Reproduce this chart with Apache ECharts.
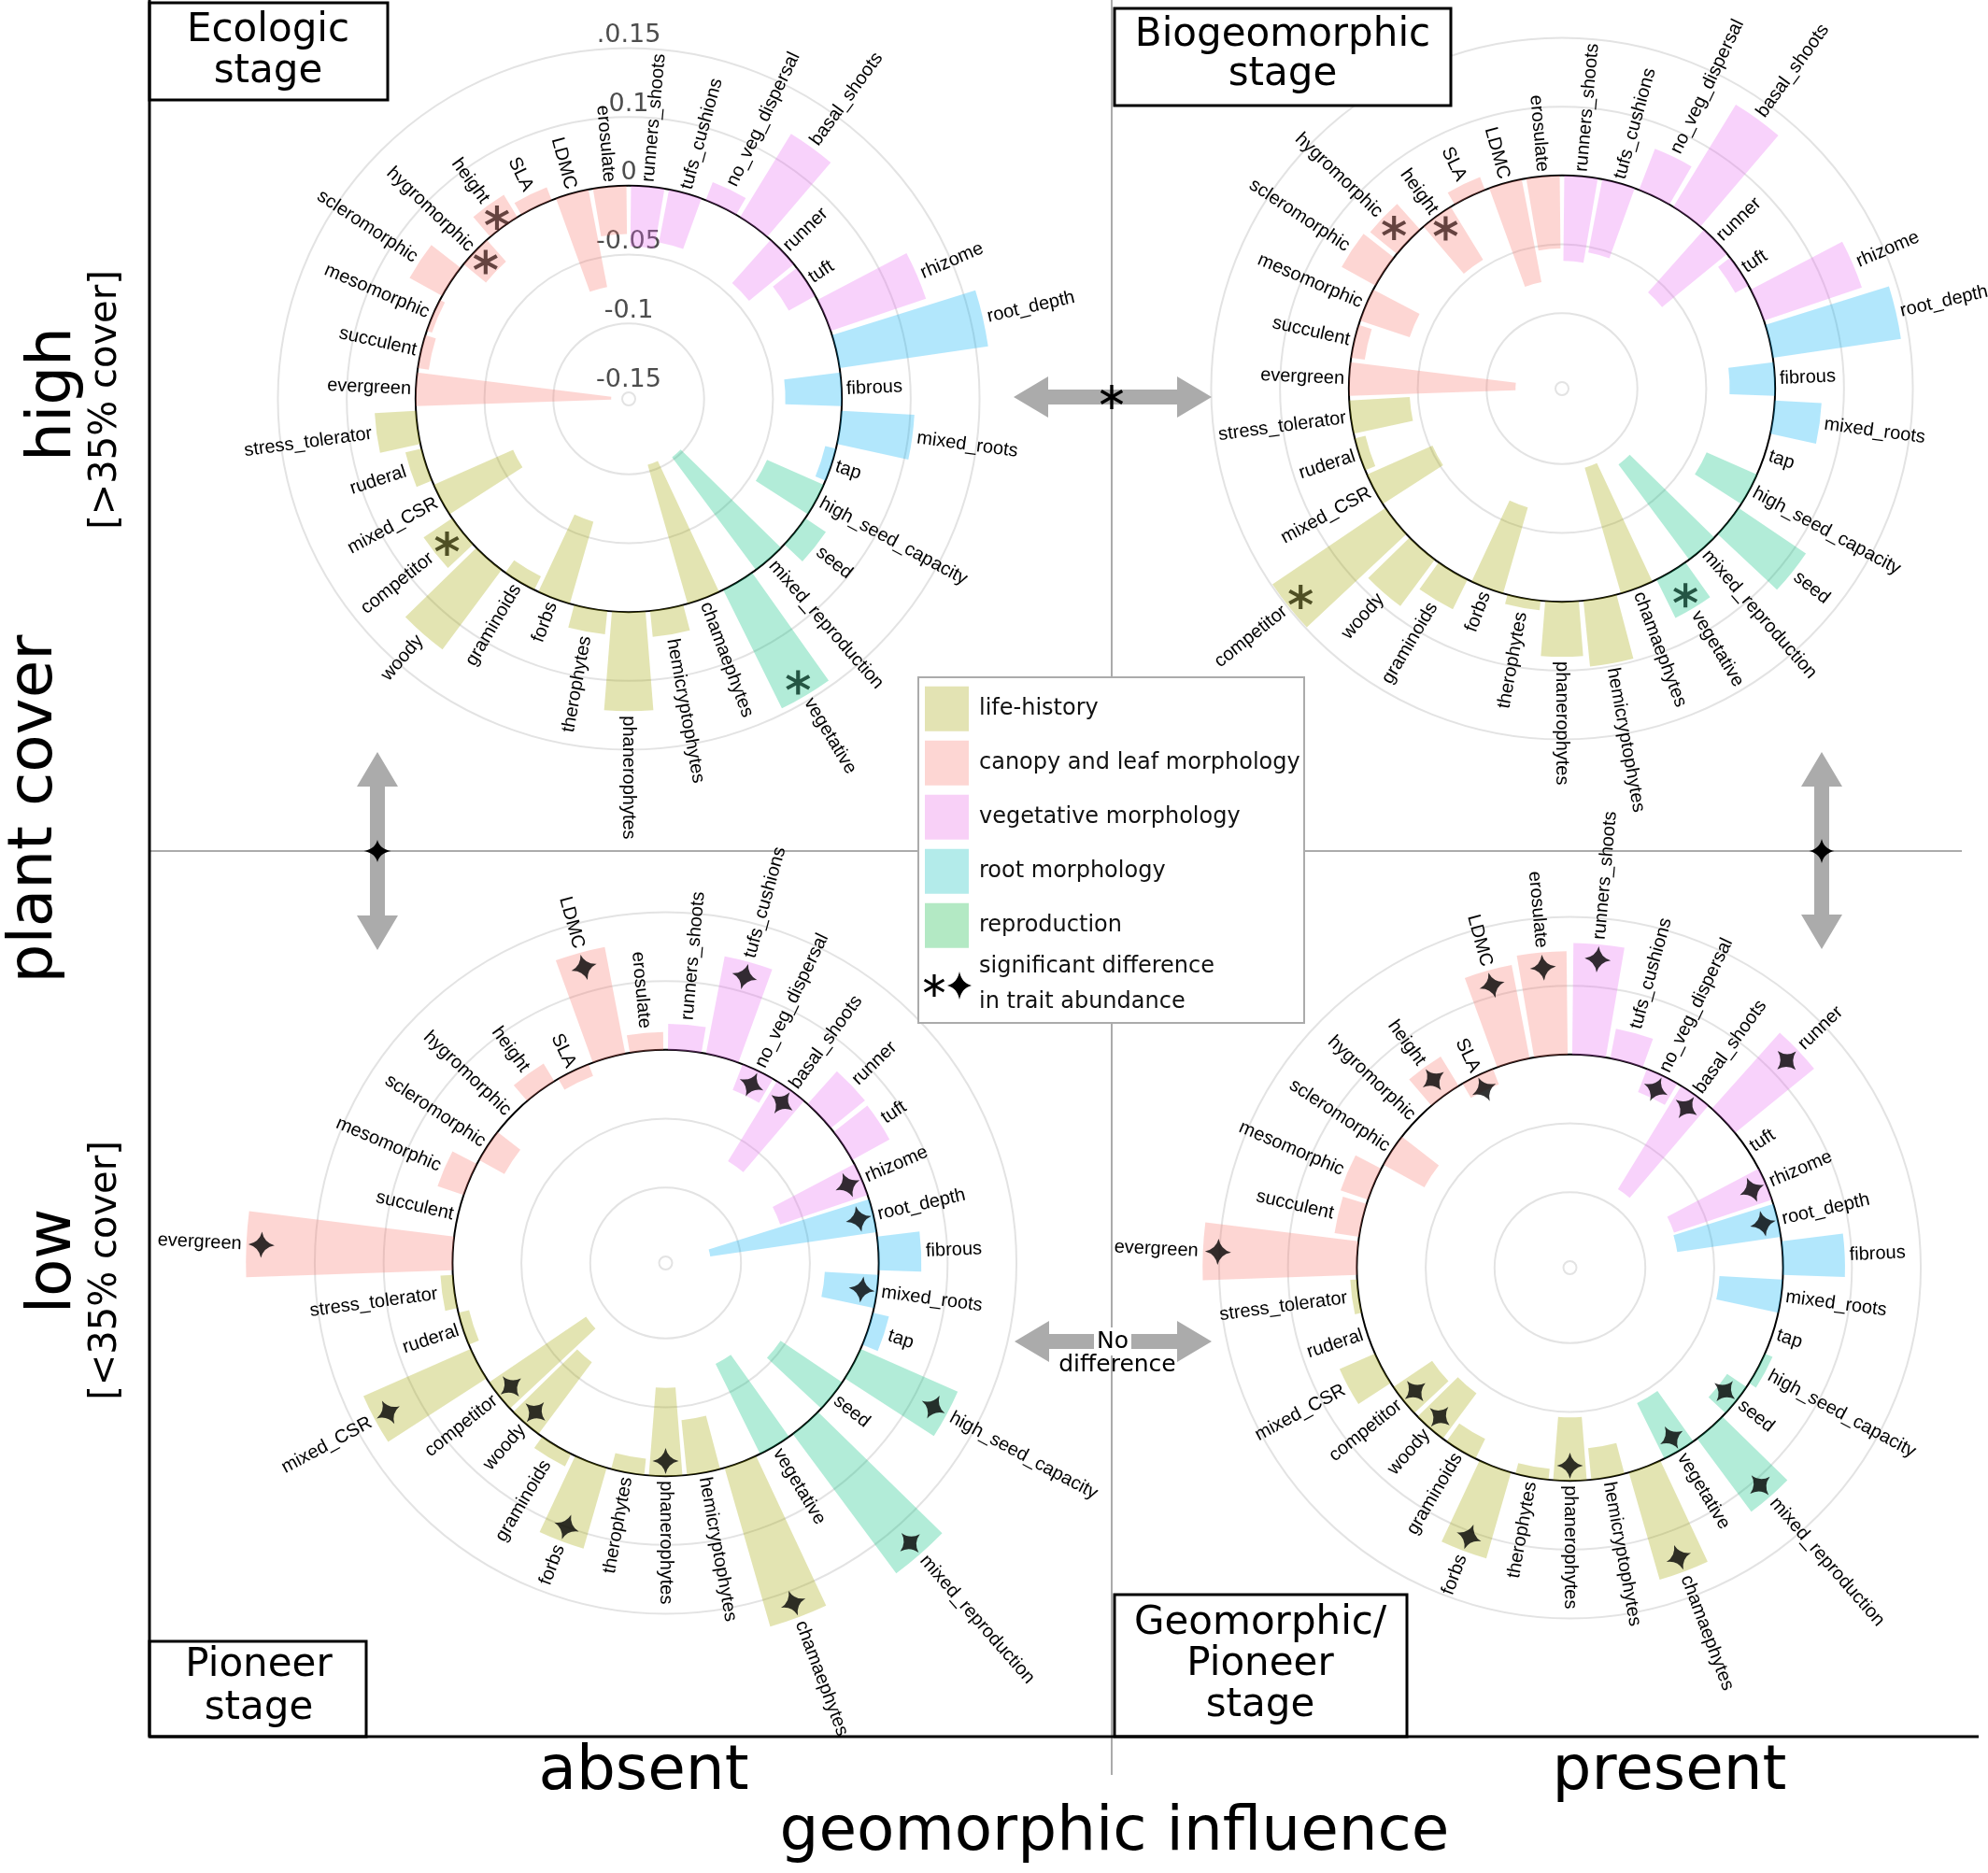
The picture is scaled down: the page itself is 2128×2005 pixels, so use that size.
<!DOCTYPE html>
<html><head><meta charset="utf-8">
<script src="https://cdn.jsdelivr.net/npm/echarts@6/dist/echarts.min.js"></script>
<style>html,body{margin:0;padding:0;background:#fff}#c{width:2128px;height:2005px}</style>
</head><body><div id="c"></div>
<script>
// ---------------- DATA ----------------
const categories = ['runners_shoots','tufs_cushions','no_veg_dispersal','basal_shoots','runner','tuft','rhizome',
  'root_depth','fibrous','mixed_roots','tap',
  'high_seed_capacity','seed','mixed_reproduction','vegetative',
  'chamaephytes','hemicryptophytes','phanerophytes','therophytes','forbs','graminoids','woody','competitor','mixed_CSR','ruderal','stress_tolerator',
  'evergreen','succulent','mesomorphic','scleromorphic','hygromorphic','height','SLA','LDMC','erosulate'];
// group index: 0 life-history, 1 canopy and leaf morphology, 2 vegetative morphology, 3 root morphology, 4 reproduction
const traitGroup = [2,2,2,2,2,2,2, 3,3,3,3, 4,4,4,4, 0,0,0,0,0,0,0,0,0,0,0, 1,1,1,1,1,1,1,1,1];
const groupNames = ['life-history','canopy and leaf morphology','vegetative morphology','root morphology','reproduction'];
const significanceLabel = ['significant difference','in trait abundance'];

const valuesEcologic = [-0.044,-0.039,0.014,0.071,-0.042,-0.022,0.073,
  0.109,-0.041,0.053,-0.008,
  -0.045,0.018,-0.102,0.096,
  -0.105,0.019,0.072,0.017,-0.062,-0.011,0.072,0.025,-0.063,0.012,0.030,
  -0.142,-0.008,-0.004,0.027,-0.021,0.019,0.010,-0.072,-0.035];
const valuesBiogeomorphic = [-0.062,-0.054,0.032,0.087,-0.061,-0.011,0.075,
  0.094,-0.033,0.034,0.0,
  -0.040,0.059,-0.086,0.031,
  -0.095,0.048,0.040,0.007,-0.065,0.024,0.042,0.099,-0.052,-0.008,-0.044,
  -0.121,-0.010,-0.038,0.028,0.025,-0.045,0.010,-0.076,-0.053];
const valuesPioneer = [0.019,0.072,-0.020,-0.068,0.032,0.031,-0.067,
  -0.122,0.031,-0.039,0.012,
  0.077,-0.054,0.126,-0.073,
  0.120,-0.040,-0.064,-0.012,0.061,0.010,-0.065,-0.085,0.085,-0.008,0.009,
  0.150,0.0,0.020,-0.021,0.0,0.015,-0.009,0.079,0.013];
const valuesGeoPioneer = [0.081,0.022,-0.018,-0.088,0.074,0.0,-0.075,
  -0.076,0.045,-0.046,0.0,
  0.006,-0.017,0.066,-0.045,
  0.081,-0.023,-0.046,-0.008,0.065,-0.016,-0.041,-0.034,0.028,0.0,0.005,
  0.112,0.018,0.021,-0.034,0.0,0.025,-0.012,0.069,0.075];

const sigEcologic = ['height','hygromorphic','competitor','vegetative'];
const sigBiogeomorphic = ['hygromorphic','height','competitor','vegetative'];
const sigPioneer = ['tufs_cushions','no_veg_dispersal','basal_shoots','rhizome','root_depth','mixed_roots','high_seed_capacity',
  'mixed_reproduction','chamaephytes','phanerophytes','forbs','woody','competitor','mixed_CSR','evergreen','LDMC'];
const sigGeoPioneer = ['runners_shoots','no_veg_dispersal','basal_shoots','runner','rhizome','root_depth','seed','vegetative',
  'mixed_reproduction','chamaephytes','phanerophytes','forbs','woody','competitor','evergreen','height','SLA','LDMC','erosulate'];

const ringValues = [-0.15,-0.1,-0.05,0,0.05,0.1];
const ringLabels = ['-0.15','-0.1','-0.05','0','0.1','.0.15'];

const stageLabels = ['Ecologic\nstage','Biogeomorphic\nstage','Pioneer\nstage','Geomorphic/\nPioneer\nstage'];

// ---------------- STYLE / LAYOUT ----------------
const groupColors = ['#A3A500','#F8766D','#E76BF3','#00B0F6','#00BF7D'];
const legendColors = ['#e3e3b3','#fdd6d3','#f8d0f7','#b3ebea','#b3e9c4'];
const N = categories.length;
const AX_MIN = -0.15, AX_MAX = 0.16;
const LABEL_GAP = 0.0034, MARK_INSET = 0.011;
const ASTERISK = 'M-1.5 -10L1.5 -10L1.5 10L-1.5 10ZM7.91 -6.3L9.41 -3.7L-7.91 6.3L-9.41 3.7ZM9.41 3.7L7.91 6.3L-9.41 -3.7L-7.91 -6.3Z';
const STAR = 'M0 -10Q1.8 -1.8 10 0Q1.8 1.8 0 10Q-1.8 1.8 -10 0Q-1.8 -1.8 0 -10Z';

const panels = [
  {values: valuesEcologic, sig: sigEcologic, marker: 'asterisk', center: [673, 427], ticks: true},
  {values: valuesBiogeomorphic, sig: sigBiogeomorphic, marker: 'asterisk', center: [1672, 416], ticks: false},
  {values: valuesPioneer, sig: sigPioneer, marker: 'star', center: [712.5, 1352], ticks: false},
  {values: valuesGeoPioneer, sig: sigGeoPioneer, marker: 'star', center: [1680.5, 1357], ticks: false}
];
const ringColors = ['#e3e3e3','#e3e3e3','#e3e3e3','#000000','#e3e3e3','#e3e3e3','rgba(0,0,0,0)','rgba(0,0,0,0)'];
const phiOf = k => (k + 0.5) * 360 / N;
// asterisks look like black seen through the translucent bar colour
function darkTint(hex) {
  const n = parseInt(hex.slice(1), 16);
  const r = Math.round(((n >> 16) & 255) * 0.25), g = Math.round(((n >> 8) & 255) * 0.25), b = Math.round((n & 255) * 0.25);
  return 'rgb(' + r + ',' + g + ',' + b + ')';
}

const polar = [], angleAxis = [], radiusAxis = [], series = [];
panels.forEach((p, i) => {
  polar.push({center: p.center, radius: [7, 464]});
  angleAxis.push({polarIndex: i, type: 'category', data: categories, startAngle: 90, clockwise: true,
    axisLine: {show: false}, axisTick: {show: false}, axisLabel: {show: false}, splitLine: {show: false}});
  radiusAxis.push({polarIndex: i, type: 'value', min: AX_MIN, max: AX_MAX, interval: 0.05,
    axisLine: {show: false}, axisTick: {show: false},
    axisLabel: {show: p.ticks, margin: 0, align: 'center', verticalAlign: 'bottom',
      fontFamily: 'DejaVu Sans', fontSize: 27, color: '#4d4d4d',
      formatter: v => { const k = ringValues.findIndex(t => Math.abs(t - v) < 1e-6); return k >= 0 ? ringLabels[k] : ''; }},
    splitLine: {show: true, lineStyle: {color: ringColors, width: 2}}});
  series.push({type: 'bar', coordinateSystem: 'polar', polarIndex: i, barCategoryGap: '12%', silent: true, z: 2,
    data: p.values.map((v, k) => ({value: v, itemStyle: {color: groupColors[traitGroup[k]], opacity: 0.3}}))});
  series.push({type: 'scatter', coordinateSystem: 'polar', polarIndex: i, symbolSize: 0, silent: true, z: 5,
    itemStyle: {color: 'rgba(0,0,0,0)'},
    label: {show: true, position: 'inside', verticalAlign: 'middle', fontFamily: 'Liberation Sans', fontSize: 20, color: '#000', opacity: 1,
      formatter: prm => categories[prm.data.value[1]]},
    data: p.values.map((v, k) => {
      const phi = phiOf(k); const right = phi <= 180;
      return {value: [Math.max(v, 0) + LABEL_GAP, k], label: {rotate: right ? 90 - phi : 270 - phi, align: right ? 'left' : 'right'}};
    })});
  const ast = p.marker === 'asterisk';
  series.push({type: 'scatter', coordinateSystem: 'polar', polarIndex: i, silent: true, z: 6,
    symbol: 'path://' + (ast ? ASTERISK : STAR),
    symbolSize: ast ? 26 : 28,
    data: p.sig.map(name => {
      const k = categories.indexOf(name); const v = p.values[k];
      return {value: [Math.max(v, 0) - MARK_INSET, k], symbolRotate: ast ? 0 : -phiOf(k),
        itemStyle: {color: ast ? darkTint(groupColors[traitGroup[k]]) : '#000'}};
    })});
});

// ---------------- DECORATION ----------------
const G = [];
const FONT = 'DejaVu Sans';
function line(x1, y1, x2, y2, color, w, z) { G.push({type: 'line', z: z, silent: true, shape: {x1, y1, x2, y2}, style: {stroke: color, lineWidth: w}}); }
function text(t, x, y, size, opts) {
  opts = opts || {};
  const st = {text: t, fontFamily: FONT, fontSize: size, fill: opts.color || '#000', align: opts.align || 'center', verticalAlign: 'middle',
      textAlign: opts.align || 'center', textVerticalAlign: 'middle', lineHeight: opts.lh || Math.round(size * 1.2)};
  if (opts.bg) { st.backgroundColor = opts.bg; st.padding = opts.pad; }
  G.push({type: 'text', z: opts.z || 20, x, y, rotation: opts.rot || 0, silent: true, style: st});
}
function box(x, y, w, h, stroke, lw) { G.push({type: 'rect', z: 15, silent: true, shape: {x, y, width: w, height: h}, style: {fill: '#fff', stroke, lineWidth: lw}}); }
function asteriskAt(cx, cy, s) {
  [0, 60, 120].forEach(a => {
    const r = a * Math.PI / 180, c = Math.cos(r), sn = Math.sin(r);
    const pts = [[-0.13, -1], [0.13, -1], [0.13, 1], [-0.13, 1]].map(([x, y]) => [cx + s * (x * c - y * sn), cy + s * (x * sn + y * c)]);
    G.push({type: 'polygon', z: 25, silent: true, shape: {points: pts}, style: {fill: '#000'}});
  });
}
function starAt(cx, cy, sx, sy) {
  const tips = [[0, -1], [1, 0], [0, 1], [-1, 0], [0, -1]];
  const pts = [];
  for (let i = 0; i < 4; i++) {
    const a = tips[i], b = tips[i + 1];
    const ctrl = [(a[0] + b[0]) * 0.18, (a[1] + b[1]) * 0.18];
    for (let t = 0; t < 1; t += 0.1) {
      const u = 1 - t;
      const x = u * u * a[0] + 2 * u * t * ctrl[0] + t * t * b[0];
      const y = u * u * a[1] + 2 * u * t * ctrl[1] + t * t * b[1];
      pts.push([cx + sx * x, cy + sy * y]);
    }
  }
  G.push({type: 'polygon', z: 25, silent: true, shape: {points: pts}, style: {fill: '#000'}});
}
function hArrow(x1, x2, y) {
  const h = 37, hw = 22, sw = 8;
  G.push({type: 'polygon', z: 12, silent: true, shape: {points: [[x1, y], [x1 + h, y - hw], [x1 + h, y - sw], [x2 - h, y - sw], [x2 - h, y - hw], [x2, y], [x2 - h, y + hw], [x2 - h, y + sw], [x1 + h, y + sw], [x1 + h, y + hw]]}, style: {fill: '#ababab'}});
}
function vArrow(x, y1, y2) {
  const h = 37, hw = 22, sw = 8;
  G.push({type: 'polygon', z: 12, silent: true, shape: {points: [[x, y1], [x + hw, y1 + h], [x + sw, y1 + h], [x + sw, y2 - h], [x + hw, y2 - h], [x, y2], [x - hw, y2 - h], [x - sw, y2 - h], [x - sw, y1 + h], [x - hw, y1 + h]]}, style: {fill: '#ababab'}});
}

// frame and quadrant lines
line(1190, 0, 1190, 1900, '#ababab', 2, 0);
line(160, 911, 2100, 911, '#ababab', 2, 0);
line(160, 0, 160, 1859, '#000', 3, 16);
line(160, 1859, 2118, 1859, '#000', 3, 16);

// stage boxes
box(160, 3, 255, 104, '#000', 3); text(stageLabels[0], 287, 55, 42, {lh: 44});
box(1193, 9, 360, 104, '#000', 3); text(stageLabels[1], 1373, 59, 42, {lh: 42});
box(160, 1757, 232, 102, '#000', 3); text(stageLabels[2], 277, 1806, 42, {lh: 46});
box(1193, 1707, 313, 152, '#000', 3); text(stageLabels[3], 1349, 1782, 42, {lh: 44});

// arrows
hArrow(1085, 1297, 425); asteriskAt(1190, 425, 13);
vArrow(404, 805, 1017); starAt(404, 911, 14.5, 12);
vArrow(1950, 805, 1016); starAt(1950, 911, 13.5, 13);
hArrow(1086, 1297, 1436);
text('No', 1191, 1436, 25, {bg: '#fff', pad: [0, 3, 0, 3]});
text('difference', 1196, 1461, 25);

// legend
G.push({type: 'rect', z: 15, silent: true, shape: {x: 983, y: 725, width: 413, height: 370}, style: {fill: '#fff', stroke: '#ababab', lineWidth: 2}});
groupNames.forEach((g, i) => {
  const yc = 758.8 + i * 58;
  G.push({type: 'rect', z: 16, silent: true, shape: {x: 990, y: yc - 24, width: 47, height: 48}, style: {fill: legendColors[i]}});
  text(g, 1048, yc, 24, {align: 'left', color: '#111'});
});
asteriskAt(1000, 1055, 12);
starAt(1027, 1055, 13, 15);
text(significanceLabel[0], 1048, 1035, 24, {align: 'left', color: '#111'});
text(significanceLabel[1], 1048, 1073, 24, {align: 'left', color: '#111'});

// axis titles
text('high', 58, 422, 66, {rot: Math.PI / 2});
text('[>35% cover]', 114, 428, 40, {rot: Math.PI / 2});
text('plant cover', 38, 866, 66, {rot: Math.PI / 2});
text('low', 58, 1350, 66, {rot: Math.PI / 2});
text('[<35% cover]', 114, 1360, 40, {rot: Math.PI / 2});
text('absent', 689, 1898, 66);
text('present', 1787, 1898, 66);
text('geomorphic influence', 1193, 1963, 66);

const chart = echarts.init(document.getElementById('c'), null, {renderer: 'canvas'});
chart.setOption({
  backgroundColor: '#fff',
  animation: false,
  polar, angleAxis, radiusAxis, series,
  graphic: {elements: G}
});
</script></body></html>
